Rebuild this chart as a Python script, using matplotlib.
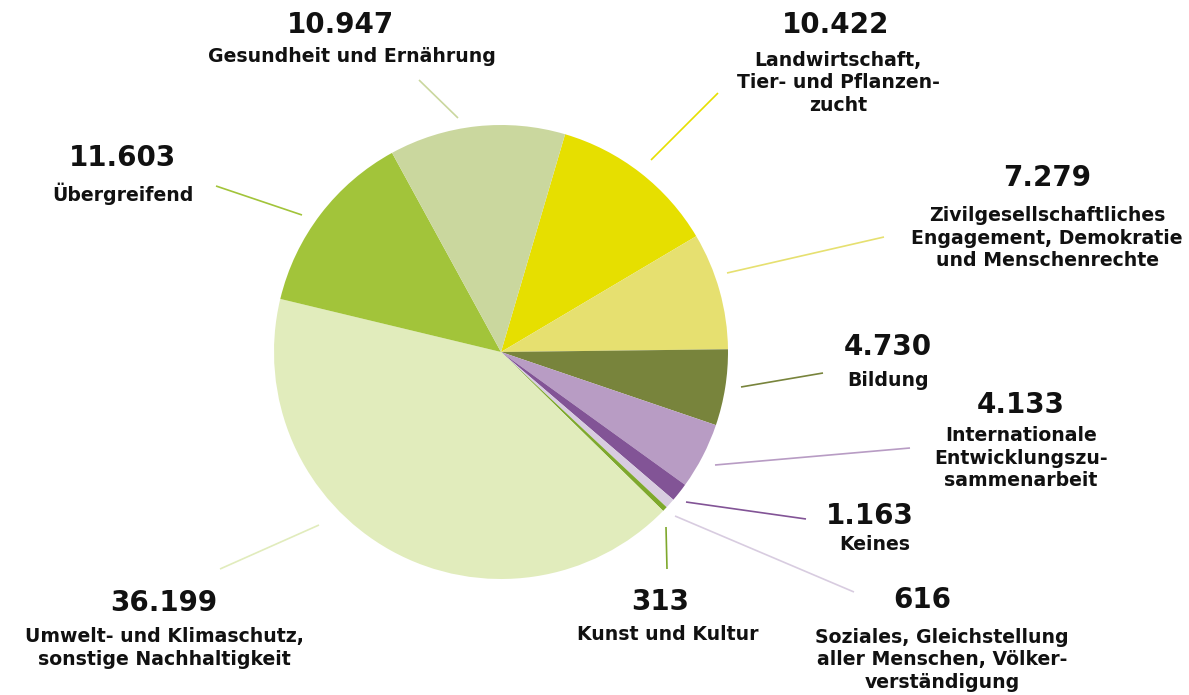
import matplotlib
matplotlib.use("Agg")
import matplotlib.pyplot as plt

# Data (clockwise from top)
categories = [
    "Landwirtschaft,\nTier- und Pflanzen-\nzucht",
    "Zivilgesellschaftliches\nEngagement, Demokratie\nund Menschenrechte",
    "Bildung",
    "Internationale\nEntwicklungszu-\nsammenarbeit",
    "Keines",
    "Soziales, Gleichstellung\naller Menschen, Völker-\nverständigung",
    "Kunst und Kultur",
    "Umwelt- und Klimaschutz,\nsonstige Nachhaltigkeit",
    "Übergreifend",
    "Gesundheit und Ernährung",
]
values = [10422, 7279, 4730, 4133, 1163, 616, 313, 36199, 11603, 10947]
value_labels = ["10.422", "7.279", "4.730", "4.133", "1.163", "616", "313", "36.199", "11.603", "10.947"]
colors = ["#e6df00", "#e6e070", "#78843c", "#b89cc4", "#825496",
          "#d8cce0", "#7ea82c", "#e1ecbc", "#a2c43a", "#cad79e"]

W, H = 1189, 695
fig = plt.figure(figsize=(W / 100, H / 100), dpi=100)
ax = fig.add_axes([0, 0, 1, 1])

cx, cy, r = 501, H - 352, 227
ax.pie(values, colors=colors, startangle=73.6, counterclock=False,
       center=(cx, cy), radius=r, wedgeprops=dict(linewidth=0), frame=True)
ax.set_xlim(0, W)
ax.set_ylim(0, H)
ax.set_aspect("equal")
ax.axis("off")

# label layout (pixel coords from top): number pos, label pos, leader line
layout = [
    ((836, 25), (838, 83), ((718, 93), (651, 160))),
    ((1047, 178), (1047, 238), ((884, 237), (727, 273))),
    ((888, 347), (888, 380), ((823, 373), (741, 387))),
    ((1021, 405), (1021, 458), ((910, 448), (715, 465))),
    ((870, 516), (875, 545), ((806, 519), (686, 502))),
    ((922, 600), (942, 660), ((854, 592), (675, 516))),
    ((660, 602), (668, 635), ((667, 569), (666, 527))),
    ((164, 603), (164, 648), ((220, 569), (319, 525))),
    ((123, 158), (123, 194), ((216, 186), (302, 215))),
    ((340, 25), (352, 57), ((419, 80), (458, 118))),
]

num_font = dict(family=["DejaVu Sans"], weight="bold", fontsize=20, color="#111111")
lab_font = dict(family=["DejaVu Sans"], weight="bold", fontsize=13.6, color="#111111",
                linespacing=1.25)

for val, cat, col, (npos, lpos, line) in zip(value_labels, categories, colors, layout):
    ax.text(npos[0], H - npos[1], val, ha="center", va="center", **num_font)
    ax.text(lpos[0], H - lpos[1], cat, ha="center", va="center", multialignment="center", **lab_font)
    (x0, y0), (x1, y1) = line
    ax.plot([x0, x1], [H - y0, H - y1], color=col, linewidth=1.2, solid_capstyle="butt")

fig.savefig("out.png", dpi=100)
